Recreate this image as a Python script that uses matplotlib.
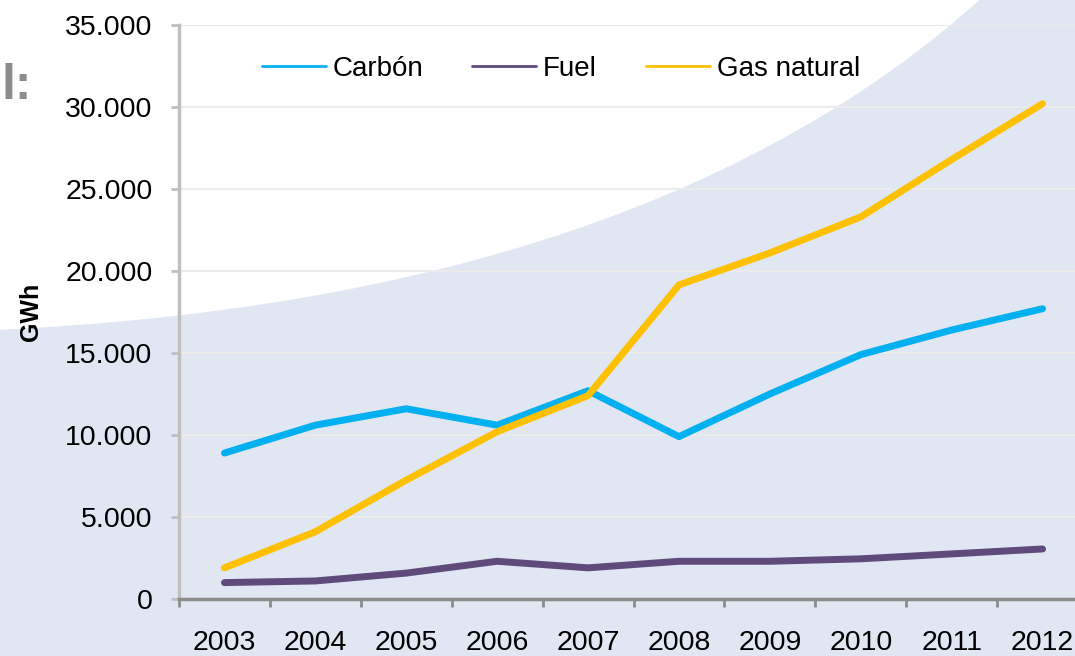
import matplotlib.pyplot as plt
from matplotlib.patches import PathPatch
from matplotlib.path import Path

plt.rcParams['font.family'] = ['Liberation Sans', 'DejaVu Sans']

# Datos (GWh)
anios = ['2003', '2004', '2005', '2006', '2007', '2008', '2009', '2010', '2011', '2012']
carbon = [8900, 10600, 11600, 10600, 12700, 9900, 12500, 14900, 16400, 17700]
fuel = [1000, 1100, 1580, 2300, 1900, 2300, 2300, 2450, 2750, 3050]
gas_natural = [1900, 4100, 7250, 10200, 12400, 19150, 21100, 23300, 26800, 30200]

fig = plt.figure(figsize=(10.75, 6.56), dpi=100)
fig.patch.set_facecolor('#e0e6f2')

# fondo de la diapositiva: zona blanca curva arriba a la izquierda
W, H = 1075, 656
def px(x, y):
    return (x / W, 1 - y / H)
verts = [px(-5, -5), px(-5, 330), px(650, 300), px(985, -5), px(-5, -5)]
codes = [Path.MOVETO, Path.LINETO, Path.CURVE3, Path.CURVE3, Path.CLOSEPOLY]
fondo = PathPatch(Path(verts, codes), transform=fig.transFigure,
                  facecolor='white', edgecolor='none', zorder=-10)
fig.patches.append(fondo)
fig.text(0.001, 1 - 86 / H, 'l:', fontsize=36, fontweight='bold', color='#8c8c8c',
         va='center', ha='left', zorder=-5)

ax = fig.add_axes([179 / W, 57 / H, 909 / W, 574 / H])
ax.set_facecolor('none')
ax.set_zorder(1)

x = range(len(anios))
ax.plot(x, carbon, color='#00b0f0', lw=5, solid_capstyle='round', label='Carbón')
ax.plot(x, fuel, color='#604a7b', lw=5, solid_capstyle='round', label='Fuel')
ax.plot(x, gas_natural, color='#ffc000', lw=5, solid_capstyle='round', label='Gas natural')

ax.set_xlim(-0.5, 9.5)
ax.set_ylim(0, 35000)
ax.set_yticks(range(0, 35001, 5000))
ax.set_yticklabels(['0' if v == 0 else f'{v // 1000}.000' for v in range(0, 35001, 5000)])
ax.yaxis.grid(True, color='#ebebeb', lw=1.5)
ax.set_axisbelow(True)

ax.set_xticks(list(x))
ax.set_xticklabels(anios)
ax.set_xticks([i - 0.5 for i in range(11)], minor=True)
ax.tick_params(axis='x', which='major', length=0, pad=22, labelsize=20.5)
ax.tick_params(axis='x', which='minor', length=6, width=2, color='#8c8c8c', direction='out')
ax.tick_params(axis='y', length=6, width=2, color='#bfbfbf', labelsize=20.5, pad=13)

for s in ['top', 'right']:
    ax.spines[s].set_visible(False)
ax.spines['left'].set_color('#bfbfbf')
ax.spines['left'].set_linewidth(2.5)
ax.spines['bottom'].set_color('#8c8c8c')
ax.spines['bottom'].set_linewidth(2.5)

ax.set_ylabel('GWh', fontsize=18, fontweight='bold', labelpad=16)

leg = ax.legend(loc='upper left', bbox_to_anchor=(0.064, 0.99), ncol=3, frameon=False,
                fontsize=20, handlelength=2.3, handletextpad=0.25, columnspacing=1.75)
for l in leg.get_lines():
    l.set_linewidth(2)

fig.savefig('out.png', dpi=100)
